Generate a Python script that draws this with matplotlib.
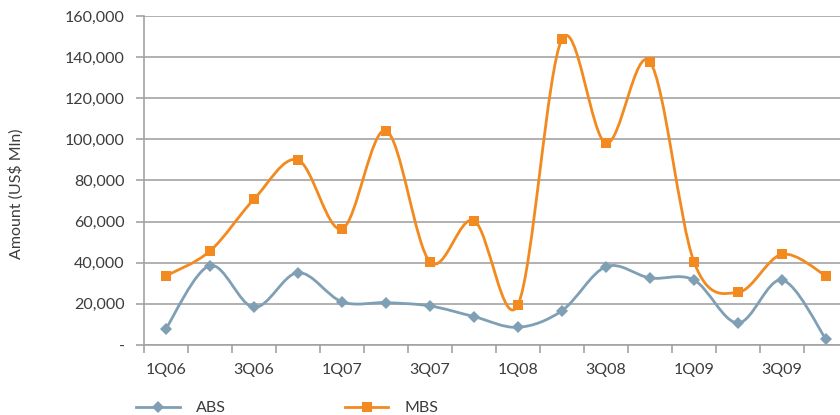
import matplotlib
matplotlib.use("Agg")
import matplotlib.pyplot as plt
from matplotlib.path import Path
from matplotlib.patches import PathPatch
from matplotlib.lines import Line2D
from matplotlib.ticker import FuncFormatter, MultipleLocator

plt.rcParams['font.family'] = ['Lato', 'DejaVu Sans']

quarters = ['1Q06', '2Q06', '3Q06', '4Q06', '1Q07', '2Q07', '3Q07', '4Q07',
            '1Q08', '2Q08', '3Q08', '4Q08', '1Q09', '2Q09', '3Q09', '4Q09']
abs_values = [8000, 38600, 18300, 35200, 21000, 20600, 19000, 13800,
              8600, 16700, 38100, 32600, 31600, 10700, 31600, 2800]
mbs_values = [33600, 45700, 70900, 90000, 56400, 104300, 40400, 60500,
              19600, 148800, 98100, 137700, 40400, 25600, 44100, 33600]
series_names = ['ABS', 'MBS']

ABS_COLOR = '#7f9fb5'
MBS_COLOR = '#f28a1f'
TEXT_COLOR = '#3c3c3c'
GRID_COLOR = '#a3a3a3'


def smooth_path(xs, ys):
    """Cubic Bezier path through the points (Catmull-Rom style smoothing)."""
    n = len(xs)
    verts = [(xs[0], ys[0])]
    codes = [Path.MOVETO]
    for i in range(n - 1):
        i0 = max(i - 1, 0)
        i3 = min(i + 2, n - 1)
        c1 = (xs[i] + (xs[i + 1] - xs[i0]) / 6.0, ys[i] + (ys[i + 1] - ys[i0]) / 6.0)
        c2 = (xs[i + 1] - (xs[i3] - xs[i]) / 6.0, ys[i + 1] - (ys[i3] - ys[i]) / 6.0)
        verts += [c1, c2, (xs[i + 1], ys[i + 1])]
        codes += [Path.CURVE4] * 3
    return Path(verts, codes)


W, H = 840, 415
fig = plt.figure(figsize=(W / 100, H / 100), dpi=100)
left, right, top, bottom = 144, 848, 16, 345
ax = fig.add_axes([left / W, 1 - bottom / H, (right - left) / W, (bottom - top) / H])

x = list(range(len(quarters)))
for vals, color, marker, ms in [(abs_values, ABS_COLOR, 'D', 6.5),
                                (mbs_values, MBS_COLOR, 's', 7)]:
    patch = PathPatch(smooth_path(x, vals), fill=False, edgecolor=color,
                      lw=2.0, zorder=3, capstyle='round', joinstyle='round')
    ax.add_patch(patch)
    ax.plot(x, vals, linestyle='none', marker=marker, markersize=ms,
            color=color, markeredgewidth=0, zorder=4)

ax.set_xlim(-0.5, len(quarters) - 0.5)
ax.set_ylim(0, 160000)
ax.yaxis.set_major_locator(MultipleLocator(20000))
ax.yaxis.set_major_formatter(FuncFormatter(lambda v, p: '-' if v == 0 else f'{int(v):,}'))
ax.grid(axis='y', color=GRID_COLOR, lw=1.2)
ax.set_axisbelow(True)

# Category boundaries carry the tick marks; every other category is labelled
ax.set_xticks([i - 0.5 for i in range(len(quarters) + 1)])
ax.set_xticklabels([])
ax.set_xticks(x[::2], minor=True)
ax.set_xticklabels(quarters[::2], minor=True)
ax.tick_params(axis='x', which='major', length=6, width=1.2, color=GRID_COLOR)
ax.tick_params(axis='x', which='minor', length=0, pad=13, labelsize=11.5, labelcolor=TEXT_COLOR)
ax.tick_params(axis='y', length=6, width=1.2, color=GRID_COLOR, pad=8,
               labelsize=11.5, labelcolor=TEXT_COLOR)

for side in ['top', 'right']:
    ax.spines[side].set_visible(False)
for side in ['left', 'bottom']:
    ax.spines[side].set_color(GRID_COLOR)
    ax.spines[side].set_linewidth(1.2)

fig.text(16 / W, 1 - 194 / H, 'Amount (US$ Mln)', rotation=90, ha='center', va='center',
         fontsize=11.5, color=TEXT_COLOR)

handles = [Line2D([], [], color=ABS_COLOR, lw=2.0, marker='D', markersize=6.5, markeredgewidth=0),
           Line2D([], [], color=MBS_COLOR, lw=2.0, marker='s', markersize=7, markeredgewidth=0)]
fig.legend(handles, series_names, loc='center left', bbox_to_anchor=(122 / W, 1 - 408 / H),
           ncol=2, frameon=False, fontsize=11.5, handlelength=2.7, handletextpad=1.0,
           columnspacing=7.5, labelcolor=TEXT_COLOR)

fig.savefig('out.png', dpi=100)
